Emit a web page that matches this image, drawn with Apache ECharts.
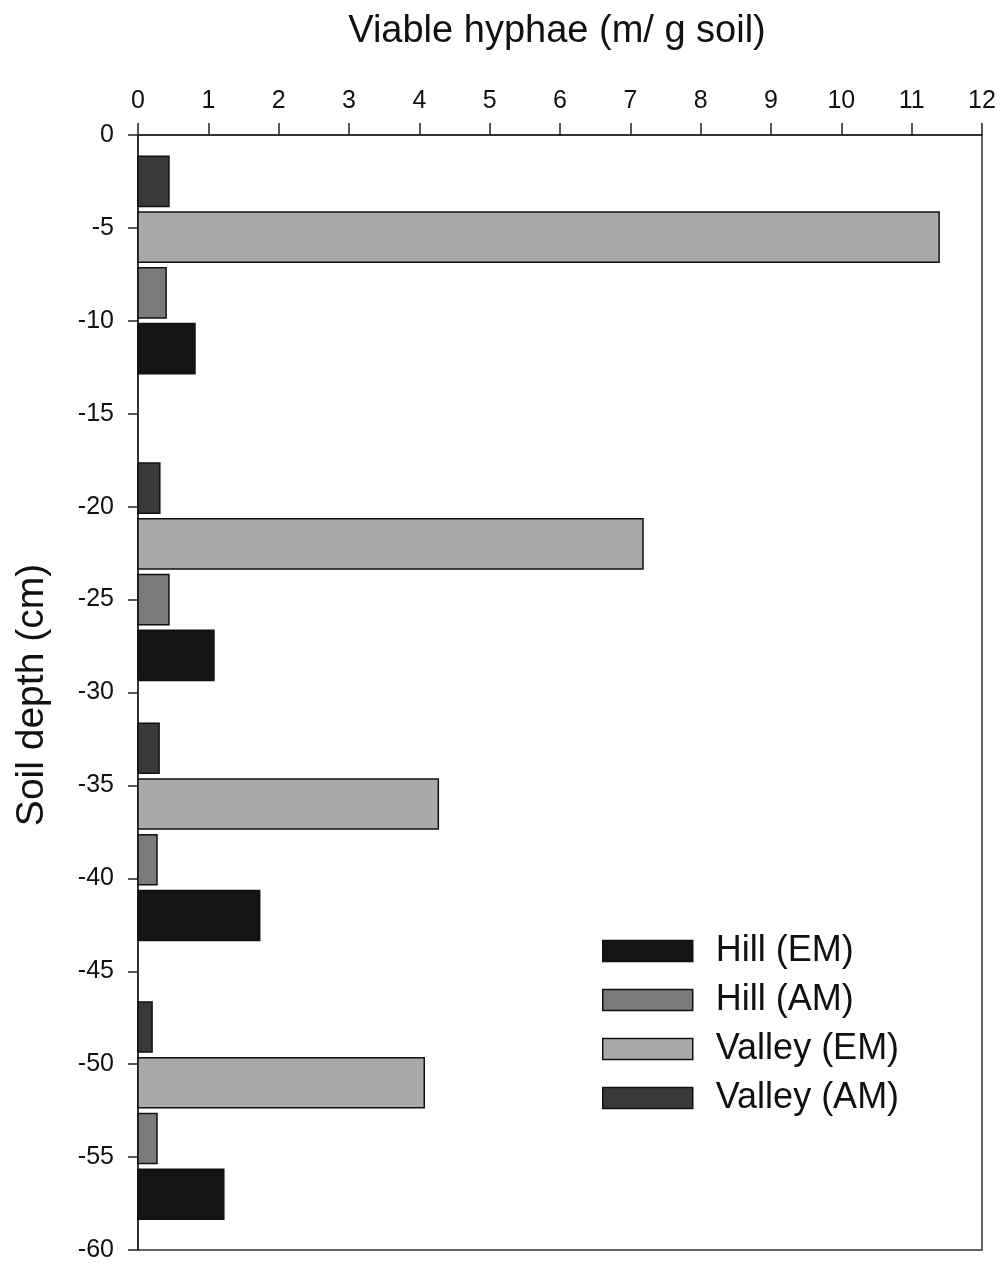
<!DOCTYPE html>
<html>
<head>
<meta charset="utf-8">
<script src="https://cdn.jsdelivr.net/npm/echarts@6/dist/echarts.min.js"></script>
<style>html,body{margin:0;padding:0;background:#fff;}#chart{width:1002px;height:1267px;}</style>
</head>
<body>
<div id="chart"></div>
<script>
// Series names
const seriesNames = ['Hill (EM)', 'Hill (AM)', 'Valley (EM)', 'Valley (AM)'];
// Bar depths (cm, centre of each bar) per series
const depthHillEM   = [-11.5, -28, -42, -57];
const depthHillAM   = [-8.5, -25, -39, -54];
const depthValleyEM = [-5.5, -22, -36, -51];
const depthValleyAM = [-2.5, -19, -33, -48];
// Viable hyphae values (m / g soil)
const valHillEM   = [0.81, 1.08, 1.73, 1.22];
const valHillAM   = [0.40, 0.44, 0.27, 0.27];
const valValleyEM = [11.39, 7.18, 4.27, 4.07];
const valValleyAM = [0.44, 0.31, 0.30, 0.20];

const colors = ['#141414', '#7a7a7a', '#a9a9a9', '#393939'];
const BAR_H = 2.7; // bar thickness in depth units

function pairs(vals, depths) { return vals.map((v, i) => [v, depths[i]]); }
const seriesData = [
  pairs(valHillEM, depthHillEM),
  pairs(valHillAM, depthHillAM),
  pairs(valValleyEM, depthValleyEM),
  pairs(valValleyAM, depthValleyAM)
];

function renderBar(params, api) {
  const v = api.value(0), d = api.value(1);
  const p0 = api.coord([0, d]);
  const p1 = api.coord([v, d]);
  const h = api.size([0, BAR_H])[1];
  return {
    type: 'rect',
    shape: { x: p0[0], y: p0[1] - h / 2, width: p1[0] - p0[0], height: h },
    style: api.style()
  };
}

const chart = echarts.init(document.getElementById('chart'));
const font = '"Liberation Sans", Arial, sans-serif';
chart.setOption({
  animation: false,
  backgroundColor: '#fff',
  textStyle: { fontFamily: font, color: '#111' },
  grid: { left: 138, right: 20, top: 135, bottom: 17, show: true, borderColor: '#333', borderWidth: 1.5, backgroundColor: 'transparent' },
  xAxis: {
    type: 'value', position: 'top', min: 0, max: 12, interval: 1,
    axisLine: { show: true, lineStyle: { color: '#222', width: 1.5 } },
    axisTick: { show: true, inside: false, length: 12, lineStyle: { color: '#222', width: 1.5 } },
    axisLabel: { fontSize: 25, color: '#111', margin: 21, fontFamily: font },
    splitLine: { show: false }
  },
  yAxis: {
    type: 'value', min: -60, max: 0, interval: 5,
    axisLine: { show: true, lineStyle: { color: '#222', width: 1.5 } },
    axisTick: { show: true, inside: false, length: 10, lineStyle: { color: '#222', width: 1.5 } },
    axisLabel: { fontSize: 25, color: '#111', margin: 24, fontFamily: font },
    splitLine: { show: false }
  },
  legend: {
    orient: 'vertical', left: 602, top: 933, padding: 0,
    itemWidth: 90, itemHeight: 21, itemGap: 13,
    icon: 'rect',
    itemStyle: { borderColor: '#111', borderWidth: 1.5 },
    textStyle: { fontSize: 36, lineHeight: 35, color: '#111', fontFamily: font, padding: [0, 0, 0, 18] },
    data: seriesNames
  },
  graphic: [
    { type: 'text', x: 557, y: 32, style: { text: 'Viable hyphae (m/ g soil)', font: '38px ' + font, fill: '#111', textAlign: 'center', textVerticalAlign: 'middle' } },
    { type: 'text', x: 32, y: 695, rotation: Math.PI / 2, style: { text: 'Soil depth (cm)', font: '39px ' + font, fill: '#111', textAlign: 'center', textVerticalAlign: 'middle' } }
  ],
  series: seriesNames.map((name, i) => ({
    name: name,
    type: 'custom',
    renderItem: renderBar,
    encode: { x: 0, y: 1 },
    itemStyle: { color: colors[i], borderColor: '#111', borderWidth: 1.5 },
    data: seriesData[i]
  }))
});
</script>
</body>
</html>
